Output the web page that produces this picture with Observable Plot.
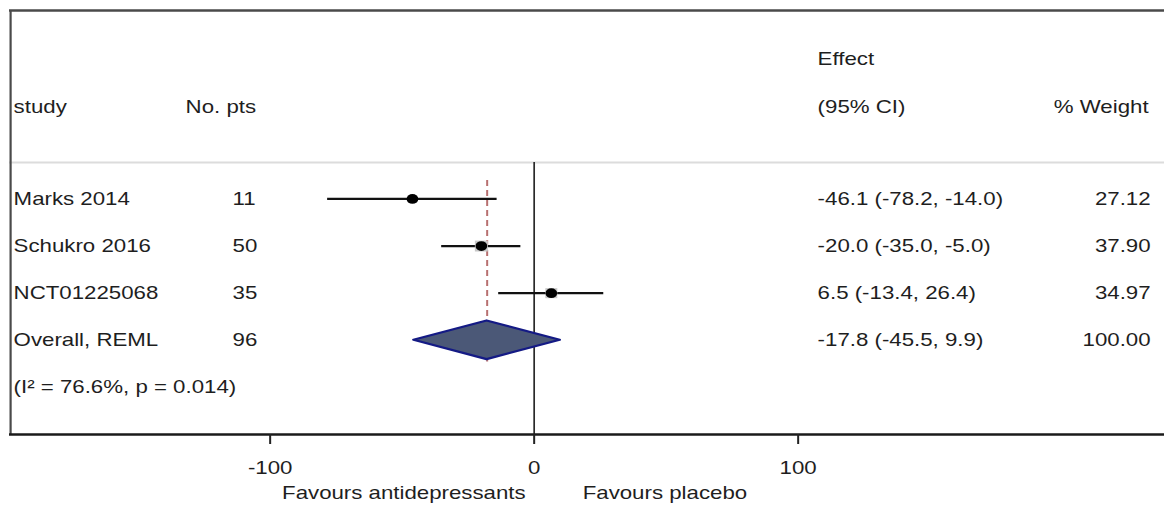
<!DOCTYPE html>
<html>
<head>
<meta charset="utf-8">
<script src="https://cdn.jsdelivr.net/npm/d3@7"></script>
<script src="https://cdn.jsdelivr.net/npm/@observablehq/plot@0.6"></script>
<style>
  html, body { margin: 0; padding: 0; background: #fff; overflow: hidden; }
  #chart svg { display: block; transform-origin: 0 0; }
</style>
</head>
<body>
<div id="chart"></div>
<script>
// ---- data ----
const studies   = ["Marks 2014", "Schukro 2016", "NCT01225068"];
const patients  = [11, 50, 35];
const effects   = [-46.1, -20.0, 6.5];
const ciLow     = [-78.2, -35.0, -13.4];
const ciHigh    = [-14.0, -5.0, 26.4];
const weights   = [27.12, 37.90, 34.97];

const overallLabel   = "Overall, REML";
const overallPts     = 96;
const overallEffect  = -17.8;
const overallLow     = -45.5;
const overallHigh    = 9.9;
const overallWeight  = 100.00;

const i2Value = 76.6;
const pValue  = "0.014";

const xTicks = [-100, 0, 100];
const headerTop  = ["Effect"];
const headerMain = ["study", "No. pts", "(95% CI)", "% Weight"];
const favourLabels = ["Favours antidepressants", "Favours placebo"];

// ---- layout (image is horizontally stretched; draw narrow, then scale) ----
const REAL_W = 1164, W = 978, S = REAL_W / W, H = 509;
const FS = 18.7;
const FONT = "'Liberation Sans', Arial, Helvetica, sans-serif";
const frameLeft = 9;
const dxOf = (xReal) => (xReal - frameLeft) / S;
const xDomain = [-198.7, 238.8];

// rows
const rows = studies.map((s, i) => ({
  row: i, name: s, pts: patients[i], est: effects[i], lo: ciLow[i], hi: ciHigh[i], w: weights[i],
  label: `${effects[i].toFixed(1)} (${ciLow[i].toFixed(1)}, ${ciHigh[i].toFixed(1)})`
}));
const overallRow = {
  row: studies.length, name: overallLabel, pts: overallPts, w: overallWeight,
  label: `${overallEffect.toFixed(1)} (${overallLow.toFixed(1)}, ${overallHigh.toFixed(1)})`
};
const tableRows = [...rows, overallRow];
const hetRow = [{row: studies.length + 1, text: `(I² = ${i2Value}%, p = ${pValue})`}];

const dH = 0.41;
const diamond = [
  {x: overallLow, y1: overallRow.row, y2: overallRow.row},
  {x: overallEffect, y1: overallRow.row - dH, y2: overallRow.row + dH},
  {x: overallHigh, y1: overallRow.row, y2: overallRow.row}
];

const headY = -1.95, effY = -2.98, sepY = -0.774;
const txt = {fontFamily: FONT, fontSize: FS, fill: "#1e1e1e", frameAnchor: "left", textAnchor: "start"};

const plot = Plot.plot({
  width: W,
  height: H,
  marginLeft: frameLeft / S,
  marginRight: 0,
  marginTop: 10,
  marginBottom: 75,
  style: {fontFamily: FONT, fontSize: FS + "px", color: "#1e1e1e", background: "#fff"},
  x: {domain: xDomain, label: null},
  y: {domain: [-4, 5], reverse: true, axis: null},
  r: {type: "linear", domain: [0, 40], range: [0, 6.5]},
  marks: [
    // frame
    Plot.ruleY([-4], {stroke: "#4a4a4a", strokeWidth: 2.4}),
    Plot.ruleY([sepY], {stroke: "#dcdcdc", strokeWidth: 2}),
    Plot.ruleX([xDomain[0]], {stroke: "#4a4a4a", strokeWidth: 2.2 / S, dx: 1 / S}),
    Plot.ruleX([0], {y1: sepY, y2: 5, stroke: "#2a2a2a", strokeWidth: 1.7 / S}),
    Plot.ruleX([overallEffect], {y1: -0.39, y2: overallRow.row + dH + 0.05, stroke: "#b87070", strokeWidth: 2 / S, strokeDasharray: "6,4"}),
    // diamond
    Plot.areaY(diamond, {x: "x", y1: "y1", y2: "y2", fill: "#4b5877", stroke: "#141a85", strokeWidth: 2.2}),
    // CIs
    Plot.ruleY(rows, {y: "row", x1: "lo", x2: "hi", stroke: "#111", strokeWidth: 2.3}),
    Plot.dot(rows, {x: "est", y: "row", r: "w", symbol: "square", fill: "#c8c8c8"}),
    Plot.dot(rows, {x: "est", y: "row", r: 4.9, fill: "#000"}),
    // axis
    Plot.ruleY([5], {stroke: "#1a1a1a", strokeWidth: 2.6}),
    Plot.axisX({ticks: xTicks, tickFormat: d => String(d), tickSize: 10, tickPadding: 16, fontSize: FS, stroke: "#222", strokeWidth: 2 / S, fill: "#1e1e1e", label: null}),
    // headers
    Plot.text(headerTop, {...txt, y: effY, dx: dxOf(817), text: d => d}),
    Plot.text([headerMain[0]], {...txt, y: headY, dx: dxOf(13), text: d => d}),
    Plot.text([headerMain[1]], {...txt, y: headY, dx: dxOf(185), text: d => d}),
    Plot.text([headerMain[2]], {...txt, y: headY, dx: dxOf(817), text: d => d}),
    Plot.text([headerMain[3]], {...txt, y: headY, dx: dxOf(1148), textAnchor: "end", text: d => d}),
    // table columns
    Plot.text(tableRows, {...txt, y: "row", dx: dxOf(13), text: "name"}),
    Plot.text(tableRows, {...txt, y: "row", dx: dxOf(232), text: d => String(d.pts)}),
    Plot.text(tableRows, {...txt, y: "row", dx: dxOf(817), text: "label"}),
    Plot.text(tableRows, {...txt, y: "row", dx: dxOf(1150), textAnchor: "end", text: d => d.w.toFixed(2)}),
    Plot.text(hetRow, {...txt, y: "row", dx: dxOf(13), text: "text"}),
    // favours labels
    Plot.text([favourLabels[0]], {x: 0, frameAnchor: "bottom", dy: 59, dx: (525 - 533.5) / S, textAnchor: "end", lineAnchor: "middle", text: d => d, fontFamily: FONT, fontSize: FS, fill: "#1e1e1e"}),
    Plot.text([favourLabels[1]], {x: 0, frameAnchor: "bottom", dy: 59, dx: (582 - 533.5) / S, textAnchor: "start", lineAnchor: "middle", text: d => d, fontFamily: FONT, fontSize: FS, fill: "#1e1e1e"})
  ]
});
plot.style.transform = `scaleX(${S})`;
plot.style.maxWidth = "none";
document.getElementById("chart").appendChild(plot);
</script>
</body>
</html>
